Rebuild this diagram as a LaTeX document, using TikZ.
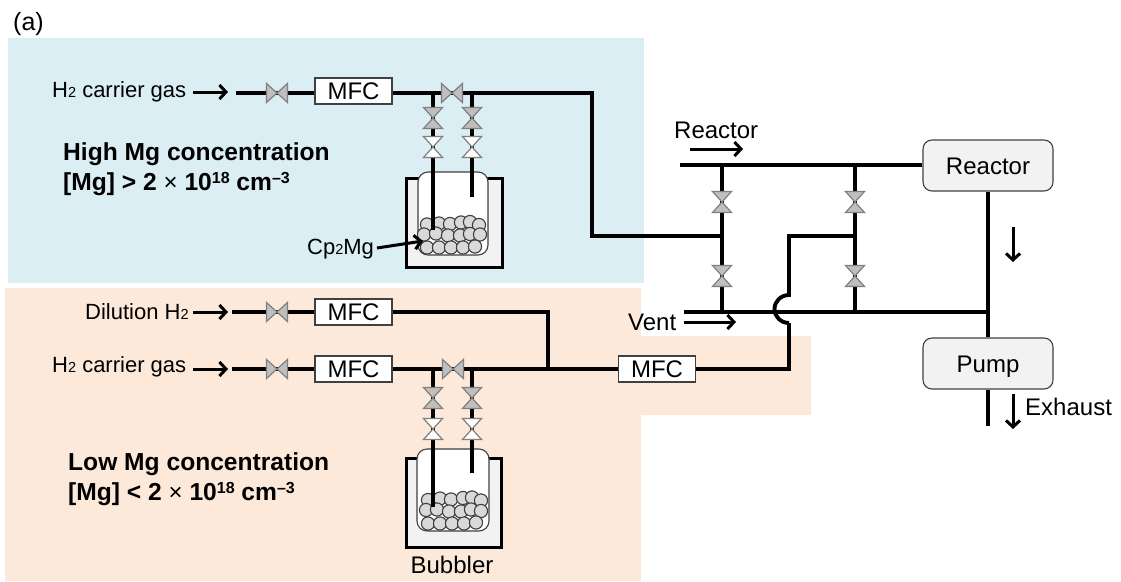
\documentclass[tikz,border=0pt]{standalone}
\usepackage{fontspec}
\setmainfont{Liberation Sans}
\usetikzlibrary{arrows.meta}
\definecolor{bluebg}{HTML}{DAEEF3}
\definecolor{peachbg}{HTML}{FDE9D9}
\definecolor{valvegray}{HTML}{BFBFBF}
\definecolor{bathgray}{HTML}{F2F2F2}
\definecolor{ballgray}{HTML}{D9D9D9}
\definecolor{edgegray}{HTML}{404040}
\newcommand{\fs}[1]{\fontsize{#1}{#1}\selectfont}
\newcommand{\sbt}[1]{{\fs{14.5}#1}}
\newcommand{\spt}[1]{\raisebox{7pt}{\fs{16}#1}}
% horizontal flow valve
\newcommand{\hvalve}[2]{%
  \fill[valvefill] (#1) ++(-10.5,-9.5) -- ++(21,19) -- ++(0,-19) -- ++(-21,19) -- cycle;
  \draw[valveedge] (#1) ++(-10.5,-9.5) -- ++(21,19) -- ++(0,-19) -- ++(-21,19) -- cycle;
}
% vertical flow valve
\newcommand{\vvalve}[2]{%
  \fill[fill=#2] (#1) ++(-9.5,-10.5) -- ++(19,0) -- ++(-19,21) -- ++(19,0) -- cycle;
  \draw[valveedge] (#1) ++(-9.5,-10.5) -- ++(19,0) -- ++(-19,21) -- ++(19,0) -- cycle;
}
\newcommand{\balls}[1]{%
  \foreach \bx/\by in {#1} \draw[ball] (\bx,\by) circle[radius=6.6];
}
\tikzset{
  pipe/.style={line width=3.9pt,draw=black,line cap=butt,line join=miter},
  flow/.style={line width=3pt,-{Straight Barb[length=6.5pt,width=14pt,line width=3pt]}},
  valvefill/.style={fill=valvegray},
  valveedge/.style={draw=gray,line width=1.2pt,line join=miter},
  mfcbox/.style={draw=edgegray,fill=white,line width=1.1pt,minimum width=77pt,minimum height=26pt,inner sep=0pt,font=\fs{24},text height=17.2pt,text depth=0pt},
  unitbox/.style={draw=edgegray,fill=bathgray,line width=1.1pt,rounded corners=9pt,minimum width=130pt,minimum height=51pt,inner sep=0pt,font=\fs{24},text height=17.2pt,text depth=0pt},
  label/.style={anchor=base west,inner sep=0pt,font=\fs{22}},
  biglabel/.style={anchor=base west,inner sep=0pt,font=\fs{24}},
  boldlabel/.style={anchor=base west,inner sep=0pt,font=\fs{24.6}\bfseries},
  bath/.style={draw=black,fill=bathgray,line width=3pt},
  vessel/.style={draw=edgegray,fill=white,line width=1.1pt,rounded corners=10pt},
  ball/.style={draw=edgegray,fill=ballgray,line width=1.1pt},
}
\begin{document}
\begin{tikzpicture}[x=1pt,y=-1pt]
\useasboundingbox (0,0) rectangle (1121,581);
% backgrounds
\fill[bluebg] (8,38) rectangle (644,283);
\fill[peachbg] (5,288) -- (641,288) -- (641,336) -- (811,336) -- (811,415) -- (641,415) -- (641,581) -- (5,581) -- cycle;

% boxes
\node[mfcbox] (mfcA) at (353.5,91) {MFC};
\node[mfcbox] (mfcB) at (353.5,312) {MFC};
\node[mfcbox] (mfcC) at (353.5,369) {MFC};
\node[mfcbox] (mfcD) at (657,369) {MFC};
\node[unitbox] (reactor) at (988,165.5) {Reactor};
\node[unitbox] (pump) at (988,363.5) {Pump};

% coordinates
\coordinate (a0) at (236,93);
\coordinate (a1) at (277,93);
\coordinate (a2) at (452,93);
\coordinate (a3) at (433,93);
\coordinate (a4) at (472,93);
\coordinate (a5) at (592,93);
\coordinate (a6) at (592,236);
\coordinate (j1) at (722,236);
\coordinate (j2) at (855,236);
\coordinate (t0) at (680,165);
\coordinate (t1) at (722,165);
\coordinate (t2) at (855,165);
\coordinate (b0) at (684,312);
\coordinate (b1) at (722,312);
\coordinate (b2) at (855,312);
\coordinate (b3) at (988,312);
\coordinate (vr1) at (722,202);
\coordinate (vr2) at (722,276);
\coordinate (vr3) at (855,202);
\coordinate (vr4) at (855,276);
\coordinate (h1) at (789,236);
\coordinate (h2) at (789,295);
\coordinate (h3) at (789,323);
\coordinate (h4) at (789,369);
\coordinate (d0) at (232,312);
\coordinate (d1) at (277,312);
\coordinate (d2) at (548,312);
\coordinate (d3) at (548,369);
\coordinate (c0) at (232,369);
\coordinate (c1) at (277,369);
\coordinate (c2) at (453,369);
\coordinate (c3) at (433,369);
\coordinate (c4) at (472,369);
\coordinate (e0) at (988,426);

% bubblers
\draw[bath] (406,178) rectangle (502,267);
\draw[vessel] (418,255) -- (418,172) -- (488,172) -- (488,255) -- cycle;
\balls{427/224.5,439/223.5,450/224,461/222.5,470/222,479/225,424/234.5,436/233.5,448/235.5,460/235.5,470/234,480/234.5,427/247.5,439/247.5,451/247.5,463/247.5,475/246.5}
\draw[bath] (406,458) rectangle (501,547);
\draw[vessel] (417,531) -- (417,449) -- (489,449) -- (489,531) -- cycle;
\balls{428/500,440/498.5,451/499.5,463/498,472/497.5,481/500.5,426/510,437/509.5,449/511.5,461/511.5,471/509.5,481/511,428/523.5,440/523.5,452/523.5,464/523.5,476/522.5}

% pipes
\draw[pipe] (a0) -- (mfcA.west |- a0);
\draw[pipe] (mfcA.east |- a0) -- (a5) -- (a6) -- (j1);
\draw[pipe] (a3) -- (433,230);
\draw[pipe] (a4) -- (472,197);
\draw[pipe] (d0) -- (mfcB.west);
\draw[pipe] (mfcB.east) -- (d2) -- (d3);
\draw[pipe] (c0) -- (mfcC.west);
\draw[pipe] (mfcC.east) -- (mfcD.west);
\draw[pipe] (c3) -- (433,507);
\draw[pipe] (c4) -- (472,473);
\draw[pipe] (t0) -- (reactor.west |- t0);
\draw[pipe] (t1) -- (b1);
\draw[pipe] (t2) -- (b2);
\draw[pipe] (b0) -- (b3);
\draw[pipe] (reactor.south) -- (pump.north);
\draw[pipe] (pump.south) -- (e0);
\draw[pipe] (j2) -- (h1) -- (h2) arc[start angle=270,end angle=90,x radius=14.5,y radius=14];
\draw[pipe] (h3) -- (h4) -- (mfcD.east);

% valves
\hvalve{a1}{}
\hvalve{a2}{}
\hvalve{d1}{}
\hvalve{c1}{}
\hvalve{c2}{}
\vvalve{433,118}{valvegray}
\vvalve{472,118}{valvegray}
\vvalve{433,147}{white}
\vvalve{472,147}{white}
\vvalve{433,398}{valvegray}
\vvalve{472,398}{valvegray}
\vvalve{433,429}{white}
\vvalve{472,429}{white}
\vvalve{vr1}{valvegray}
\vvalve{vr2}{valvegray}
\vvalve{vr3}{valvegray}
\vvalve{vr4}{valvegray}

% labels
\node[biglabel,font=\fs{25}] (tagA) at (13,30) {(a)};
\node[label] (labA) at (52,97) {H\sbt{2} carrier gas};
\node[label] (labB) at (85,319) {Dilution H\sbt{2}};
\node[label] (labC) at (52,372) {H\sbt{2} carrier gas};
\node[label] (labCp) at (307,254) {Cp\sbt{2}Mg};
\node[biglabel] (labR) at (674,138) {Reactor};
\node[biglabel] (labV) at (628,330) {Vent};
\node[biglabel] (labE) at (1025,415) {Exhaust};
\node[biglabel,anchor=base] (labBub) at (452,573) {Bubbler};
\node[boldlabel] (hiA) at (63,160) {High Mg concentration};
\node[boldlabel] (hiB) at (63,190) {[Mg] > 2 {\fs{24}\mdseries×} 10\spt{18} cm\spt{–3}};
\node[boldlabel] (loA) at (68,470) {Low Mg concentration};
\node[boldlabel] (loB) at (68,500) {[Mg] < 2 {\fs{24}\mdseries×} 10\spt{18} cm\spt{–3}};

% flow arrows
\coordinate (fa0) at (193,92); \coordinate (fa1) at (228,92);
\coordinate (fb0) at (193,312); \coordinate (fb1) at (228,312);
\coordinate (fc0) at (193,369); \coordinate (fc1) at (228,369);
\coordinate (fr0) at (690,149); \coordinate (fr1) at (743,149);
\coordinate (fv0) at (684,322); \coordinate (fv1) at (736,322);
\coordinate (fd0) at (1013,227); \coordinate (fd1) at (1013,262);
\coordinate (fe0) at (1013,394); \coordinate (fe1) at (1013,429);
\coordinate (fm0) at (377,248); \coordinate (fm1) at (423,241);
\foreach \p/\q in {fa0/fa1,fb0/fb1,fc0/fc1,fr0/fr1,fv0/fv1,fd0/fd1,fe0/fe1,fm0/fm1}
  \draw[flow] (\p) -- (\q);
\end{tikzpicture}
\end{document}
